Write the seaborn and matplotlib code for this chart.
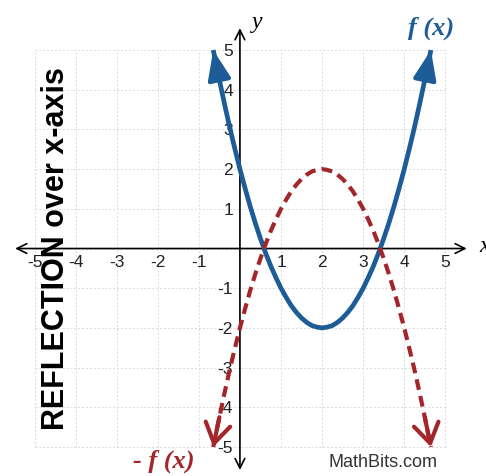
import matplotlib
matplotlib.use("Agg")
import matplotlib.pyplot as plt
import seaborn as sns
import pandas as pd

sns.set_theme(style="white")
plt.rcParams["font.family"] = ["Liberation Sans", "DejaVu Sans"]

# f(x) sampled along the parabola, vertex at (2, -2)
fx_x = [-0.65, -0.5, -0.375, -0.25, -0.125, 0.0, 0.125, 0.25, 0.375, 0.5, 0.625,
        0.75, 0.875, 1.0, 1.125, 1.25, 1.375, 1.5, 1.625, 1.75, 1.875, 2.0,
        2.125, 2.25, 2.375, 2.5, 2.625, 2.75, 2.875, 3.0, 3.125, 3.25, 3.375,
        3.5, 3.625, 3.75, 3.875, 4.0, 4.125, 4.25, 4.375, 4.5, 4.65]
fx_y = [5.0, 4.25, 3.64, 3.06, 2.52, 2.0, 1.52, 1.06, 0.64, 0.25, -0.11,
        -0.44, -0.73, -1.0, -1.23, -1.44, -1.61, -1.75, -1.86, -1.94, -1.98, -2.0,
        -1.98, -1.94, -1.86, -1.75, -1.61, -1.44, -1.23, -1.0, -0.73, -0.44, -0.11,
        0.25, 0.64, 1.06, 1.52, 2.0, 2.52, 3.06, 3.64, 4.25, 5.0]

# -f(x): the same curve reflected over the x-axis, vertex at (2, 2)
neg_x = [-0.65, -0.5, -0.375, -0.25, -0.125, 0.0, 0.125, 0.25, 0.375, 0.5, 0.625,
         0.75, 0.875, 1.0, 1.125, 1.25, 1.375, 1.5, 1.625, 1.75, 1.875, 2.0,
         2.125, 2.25, 2.375, 2.5, 2.625, 2.75, 2.875, 3.0, 3.125, 3.25, 3.375,
         3.5, 3.625, 3.75, 3.875, 4.0, 4.125, 4.25, 4.375, 4.5, 4.65]
neg_y = [-5.0, -4.25, -3.64, -3.06, -2.52, -2.0, -1.52, -1.06, -0.64, -0.25, 0.11,
         0.44, 0.73, 1.0, 1.23, 1.44, 1.61, 1.75, 1.86, 1.94, 1.98, 2.0,
         1.98, 1.94, 1.86, 1.75, 1.61, 1.44, 1.23, 1.0, 0.73, 0.44, 0.11,
         -0.25, -0.64, -1.06, -1.52, -2.0, -2.52, -3.06, -3.64, -4.25, -5.0]

ticks = [-5, -4, -3, -2, -1, 1, 2, 3, 4, 5]
tick_labels = ["-5", "-4", "-3", "-2", "-1", "1", "2", "3", "4", "5"]
grid_vals = [-5, -4, -3, -2, -1, 0, 1, 2, 3, 4, 5]

BLUE = "#1d5c96"
RED = "#a3262b"

fig = plt.figure(figsize=(4.86, 4.76), dpi=100)
ax = fig.add_axes([0, 0, 1, 1])
ax.set_xlim(-5.84, 5.99)
ax.set_ylim(-5.73, 6.26)

# light dashed grid over the -5..5 square
ax.hlines(grid_vals, -5, 5, colors="#dadada", linewidth=0.7, linestyles=(0, (2, 2)), zorder=0)
ax.vlines(grid_vals, -5, 5, colors="#dadada", linewidth=0.7, linestyles=(0, (2, 2)), zorder=0)

# axes through the origin with arrowheads at both ends
axis_props = dict(arrowstyle="<->,head_length=0.5,head_width=0.25", color="black",
                  lw=1.2, shrinkA=0, shrinkB=0, mutation_scale=14)
ax.annotate("", xy=(5.52, 0), xytext=(-5.47, 0), arrowprops=axis_props, zorder=2)
ax.annotate("", xy=(0, 5.55), xytext=(0, -5.58), arrowprops=axis_props, zorder=2)

for side in ["top", "right"]:
    ax.spines[side].set_visible(False)
for side in ["left", "bottom"]:
    ax.spines[side].set_position("zero")
    ax.spines[side].set_color("none")

ax.set_xticks(ticks)
ax.set_xticklabels(tick_labels)
ax.set_yticks(ticks)
ax.set_yticklabels(tick_labels)
ax.tick_params(axis="both", direction="in", length=5, width=1.1, color="black",
               labelsize=12.5, labelcolor="#222222", pad=5)

df_f = pd.DataFrame({"x": fx_x, "y": fx_y})
df_n = pd.DataFrame({"x": neg_x, "y": neg_y})

sns.lineplot(data=df_f, x="x", y="y", ax=ax, color=BLUE, linewidth=3.4,
             sort=False, estimator=None, zorder=4, solid_capstyle="butt")
sns.lineplot(data=df_n, x="x", y="y", ax=ax, color=RED, linewidth=3.0,
             sort=False, estimator=None, zorder=5, linestyle=(0, (2.6, 1.5)),
             dash_capstyle="butt")
ax.set_xlabel("")
ax.set_ylabel("")

# arrowheads at the ends of each curve
blue_head = dict(arrowstyle="-|>,head_length=0.9,head_width=0.35", color=BLUE,
                 lw=3, shrinkA=0, shrinkB=0, mutation_scale=20)
red_head = dict(arrowstyle="->,head_length=0.7,head_width=0.45", color=RED,
                lw=3, shrinkA=0, shrinkB=0, mutation_scale=20)
ax.annotate("", xy=(fx_x[0], fx_y[0]), xytext=(fx_x[1], fx_y[1]), arrowprops=blue_head, zorder=6)
ax.annotate("", xy=(fx_x[-1], fx_y[-1]), xytext=(fx_x[-2], fx_y[-2]), arrowprops=blue_head, zorder=6)
ax.annotate("", xy=(neg_x[0], neg_y[0]), xytext=(neg_x[1], neg_y[1]), arrowprops=red_head, zorder=6)
ax.annotate("", xy=(neg_x[-1], neg_y[-1]), xytext=(neg_x[-2], neg_y[-2]), arrowprops=red_head, zorder=6)

# labels
serif = ["Liberation Serif", "DejaVu Serif"]
ax.text(4.65, 5.55, "f (x)", color=BLUE, fontsize=19, fontweight="bold", style="italic",
        family=serif, ha="center", va="center")
ax.text(-1.85, -5.35, "- f (x)", color=RED, fontsize=19, fontweight="bold", style="italic",
        family=serif, ha="center", va="center")
ax.text(0.42, 5.7, "y", color="black", fontsize=17, style="italic", family=serif,
        ha="center", va="center")
ax.text(5.95, 0.05, "x", color="black", fontsize=17, style="italic", family=serif,
        ha="center", va="center")
ax.text(-4.47, 0.0, "REFLECTION over x-axis", rotation=90, fontsize=22, fontweight="bold",
        color="black", ha="center", va="center", zorder=7)
ax.text(3.48, -5.38, "MathBits.com", fontsize=13, color="#333333", ha="center", va="center")

fig.savefig("out.png", dpi=100)
